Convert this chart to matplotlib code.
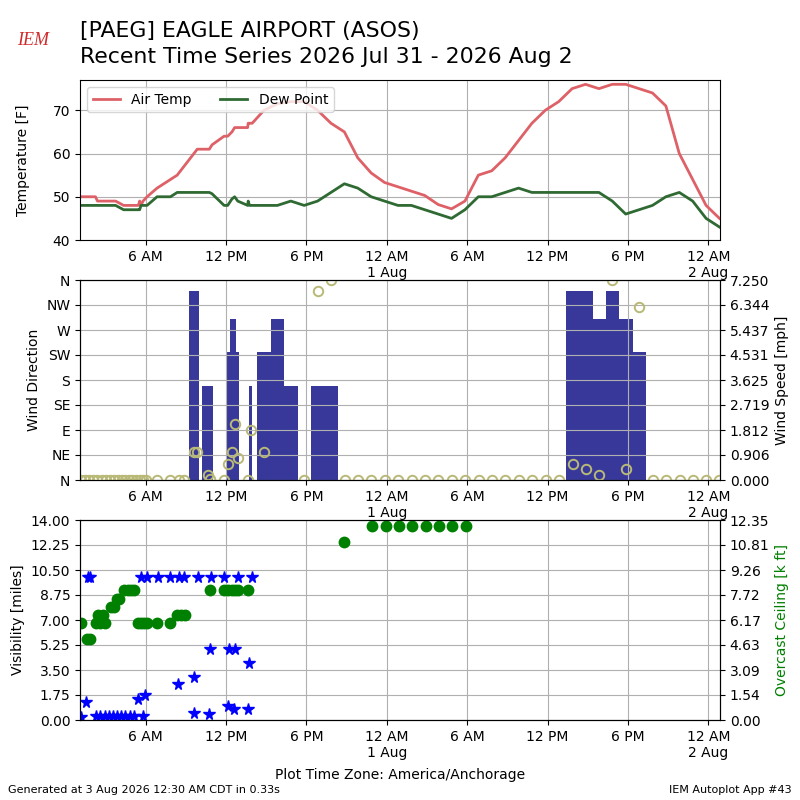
import numpy as np
import pandas as pd
import matplotlib
matplotlib.use("Agg")
import matplotlib.pyplot as plt
import matplotlib.dates as mdates
from matplotlib.ticker import FuncFormatter, FixedLocator

# ---------------- data (hours after 2026-07-31 00:00 America/Anchorage) ----
BASE = "2026-07-31 00:00"
x_range_hours = [1.095, 48.87]

temp_hours = [1.10, 2.25, 2.40, 3.75, 4.35, 5.45, 5.55, 5.65, 5.80, 6.10,
              6.85, 7.85, 8.35, 8.85, 9.60, 9.85, 10.75, 10.95, 11.85, 12.12,
              12.44, 12.64, 12.87, 13.61, 13.65, 13.75, 13.95, 14.83, 15.83, 16.83,
              17.83, 18.83, 19.83, 20.83, 21.83, 22.83, 23.83, 24.83, 25.83, 26.83,
              27.83, 28.83, 29.83, 30.83, 31.83, 32.83, 33.83, 34.83, 35.83, 36.83,
              37.83, 38.83, 39.83, 40.83, 41.83, 42.83, 43.83, 44.83, 45.83, 46.83,
              47.83, 48.83]
air_temp = [50, 50, 49, 49, 48, 48, 49, 48, 49, 50,
            52, 54, 55, 57, 60, 61, 61, 62, 64, 64,
            65, 66, 66, 66, 67, 67, 67, 70, 71.5, 72,
            72, 70, 67, 65, 59, 55.5, 53.3, 52.3, 51.3, 50.3,
            48.2, 47.2, 49, 55, 56, 59, 63, 67, 70, 72,
            75, 76, 75, 76, 76, 75, 74, 71, 60, 54,
            48, 45]
dew_point = [48, 48, 48, 48, 47, 47, 47, 48, 48, 48,
             50, 50, 51, 51, 51, 51, 51, 50.7, 48, 48,
             49.5, 50, 49, 48, 49, 48, 48, 48, 48, 49,
             48, 49, 51, 53, 52, 50, 49, 48, 48, 47,
             46, 45, 47, 50, 50, 51, 52, 51, 51, 51,
             51, 51, 51, 49, 46, 47, 48, 50, 51, 49,
             45, 43]

wind_hours = [1.15, 1.45, 1.80, 2.10, 2.40, 2.70, 3.05, 3.30, 3.60, 3.90,
              4.20, 4.45, 4.75, 5.00, 5.30, 5.55, 5.80, 6.05, 6.85, 7.84,
              8.46, 8.84, 9.62, 9.83, 10.64, 10.83, 11.82, 12.12, 12.44, 12.64,
              12.87, 13.61, 13.84, 14.83, 15.84, 16.84, 17.82, 18.84, 19.83, 20.85,
              21.85, 22.85, 23.85, 24.85, 25.85, 26.85, 27.85, 28.85, 29.85, 30.85,
              31.85, 32.85, 33.85, 34.85, 35.85, 36.86, 37.86, 38.88, 39.85, 40.84,
              41.86, 42.86, 43.85, 44.85, 45.85, 46.84, 47.83, 48.82]
wind_dir = [0, 0, 0, 0, 0, 0, 0, 0, 0, 0,
            0, 0, 0, 0, 0, 0, 0, 0, 0, 0,
            0, 0, 340, 340, 170, 170, 0, 230, 290, 290,
            230, 0, 170, 230, 290, 170, 0, 170, 170, 0,
            0, 0, 0, 0, 0, 0, 0, 0, 0, 0,
            0, 0, 0, 0, 0, 0, 340, 340, 290, 340,
            290, 230, 0, 0, 0, 0, 0, 0]
wind_speed = [0, 0, 0, 0, 0, 0, 0, 0, 0, 0,
              0, 0, 0, 0, 0, 0, 0, 0, 0, 0,
              0, 0, 1.0, 1.0, 0.18, 0.05, 0, 0.58, 1.0, 2.02,
              0.79, 0, 1.81, 1.0, np.nan, np.nan, 0, 6.86, 7.2499, 0,
              0, 0, 0, 0, 0, 0, 0, 0, 0, 0,
              0, 0, 0, 0, 0, 0, 0.58, 0.40, 0.18, 7.2499,
              0.40, 6.26, 0, 0, 0, 0, 0, 0]
dir_ticks = [0, 45, 90, 135, 180, 225, 270, 315, 360]
dir_labels = ["N", "NE", "E", "SE", "S", "SW", "W", "NW", "N"]

vis_hours = [1.20, 1.57, 1.70, 1.87, 2.32, 2.62, 2.94, 3.24, 3.56, 3.86,
             4.18, 4.48, 4.81, 5.10, 5.43, 5.65, 5.80, 5.98, 6.12, 6.90,
             7.85, 8.41, 8.48, 8.84, 9.62, 9.64, 9.88, 10.70, 10.78, 10.86,
             11.87, 12.14, 12.19, 12.62, 12.64, 12.89, 13.61, 13.68, 13.93]
visibility = [0.2, 1.25, 10, 10, 0.25, 0.25, 0.25, 0.25, 0.25, 0.25,
              0.25, 0.25, 0.25, 0.25, 1.5, 10, 0.25, 1.75, 10, 10,
              10, 2.5, 10, 10, 3.0, 0.5, 10, 0.4, 5.0, 10,
              10, 1.0, 5.0, 0.75, 5.0, 10, 0.75, 4.0, 10]

ceil_hours = [1.16, 1.62, 1.87, 2.32, 2.45, 2.62, 2.80, 2.94, 3.40, 3.60,
              3.86, 4.00, 4.40, 4.65, 4.90, 5.15, 5.43, 5.65, 5.85, 6.12,
              6.88, 7.85, 8.37, 8.67, 8.95, 10.79, 11.87, 12.14, 12.44, 12.64,
              12.89, 13.64, 20.83, 22.87, 23.91, 24.90, 25.90, 26.89, 27.86, 28.90,
              29.89]
ceiling = [6.0, 5.0, 5.0, 6.0, 6.5, 6.0, 6.5, 6.0, 7.0, 7.0,
           7.5, 7.5, 8.0, 8.0, 8.0, 8.0, 6.0, 6.0, 6.0, 6.0,
           6.0, 6.0, 6.5, 6.5, 6.5, 8.0, 8.0, 8.0, 8.0, 8.0,
           8.0, 8.0, 11.0, 12.0, 12.0, 12.0, 12.0, 12.0, 12.0, 12.0,
           12.0]

temp_ylim = [40, 77]
vis_max = 14.0
ceil_max = 12.35

# ---------------- helpers ----------------
base = pd.Timestamp(BASE)


def to_num(hours):
    dt = base + pd.to_timedelta(np.asarray(hours, dtype=float), unit="h")
    return mdates.date2num(dt.to_pydatetime())


def time_fmt(x, pos=None):
    dt = mdates.num2date(x)
    h = dt.hour
    s = f"{(h % 12) or 12} {'AM' if h < 12 else 'PM'}"
    if h == 0:
        s += f"\n{dt.day} {dt.strftime('%b')}"
    return s


TEMP_C = "#de6168"
DEW_C = "#2f6a33"
BAR_C = "#38389a"
SPD_C = "#b9b977"

fig = plt.figure(figsize=(8, 8), dpi=100)
xlim = to_num(x_range_hours)

ax1 = fig.add_axes([0.1, 0.7, 0.8, 0.2])
ax2 = fig.add_axes([0.1, 0.4, 0.8, 0.25])
ax3 = fig.add_axes([0.1, 0.1, 0.8, 0.25])

for ax in (ax1, ax2, ax3):
    ax.xaxis.set_major_locator(mdates.HourLocator(byhour=[0, 6, 12, 18]))
    ax.xaxis.set_major_formatter(FuncFormatter(time_fmt))
    ax.set_xlim(xlim)
    ax.grid(True)

# Temperature panel
t = to_num(temp_hours)
ax1.plot(t, air_temp, color=TEMP_C, lw=2, label="Air Temp")
ax1.plot(t, dew_point, color=DEW_C, lw=2, label="Dew Point")
ax1.set_ylim(temp_ylim)
ax1.set_yticks([40, 50, 60, 70])
ax1.set_ylabel("Temperature [F]", labelpad=16)
ax1.legend(loc="upper left", ncol=2, fontsize=10)

# Wind panel
w = to_num(wind_hours)
widths = np.empty(len(w))
widths[1:] = np.diff(w)
widths[0] = widths[1]
ax2.bar(w, wind_dir, width=widths, align="center", color=BAR_C, edgecolor="none")
ax2.set_ylim(0, 360)
ax2.yaxis.set_major_locator(FixedLocator(dir_ticks))
ax2.set_yticklabels(dir_labels)
ax2.set_ylabel("Wind Direction")
ax2b = ax2.twinx()
ax2b.plot(w, wind_speed, "o", mfc="none", mec=SPD_C, ms=6.8, mew=1.4)
smax = np.nanmax(wind_speed)
ax2b.set_ylim(0, smax)
ax2b.set_yticks(np.linspace(0, smax, 9))
ax2b.yaxis.set_major_formatter(FuncFormatter(lambda v, p: f"{v:.3f}"))
ax2b.set_ylabel("Wind Speed [mph]")
ax2b.set_xlim(xlim)

# Visibility / ceiling panel
v = to_num(vis_hours)
ax3.plot(v, visibility, "*", color="b", ms=8.5, ls="none")
ax3.set_ylim(0, vis_max)
ax3.set_yticks(np.linspace(0, vis_max, 9))
ax3.yaxis.set_major_formatter(FuncFormatter(lambda v_, p: f"{v_:.2f}"))
ax3.set_ylabel("Visibility [miles]")
ax3b = ax3.twinx()
ax3b.plot(to_num(ceil_hours), ceiling, "o", color="g", ms=7.5, ls="none")
ax3b.set_ylim(0, ceil_max)
ax3b.set_yticks(np.linspace(0, ceil_max, 9))
ax3b.yaxis.set_major_formatter(FuncFormatter(lambda v_, p: f"{v_:.2f}"))
ax3b.set_ylabel("Overcast Ceiling [k ft]", color="g")
ax3b.set_xlim(xlim)

# Titles and footers
fig.text(0.1, 1 - 37 / 800, "[PAEG] EAGLE AIRPORT (ASOS)", fontsize=15.8, va="baseline")
fig.text(0.1, 1 - 63 / 800, "Recent Time Series 2026 Jul 31 - 2026 Aug 2", fontsize=15.8,
         va="baseline")
fig.text(17 / 800, 1 - 45 / 800, "IEM", fontsize=13, color="#d02a2a", fontstyle="italic",
         family="Liberation Serif", va="baseline")
fig.text(0.5, 1 - 779 / 800, "Plot Time Zone: America/Anchorage", ha="center",
         va="baseline", fontsize=10)
fig.text(0.01, 1 - 793 / 800, "Generated at 3 Aug 2026 12:30 AM CDT in 0.33s",
         fontsize=8, va="baseline")
fig.text(0.99, 1 - 793 / 800, "IEM Autoplot App #43", fontsize=8, ha="right",
         va="baseline")

fig.savefig("out.png", dpi=100)
